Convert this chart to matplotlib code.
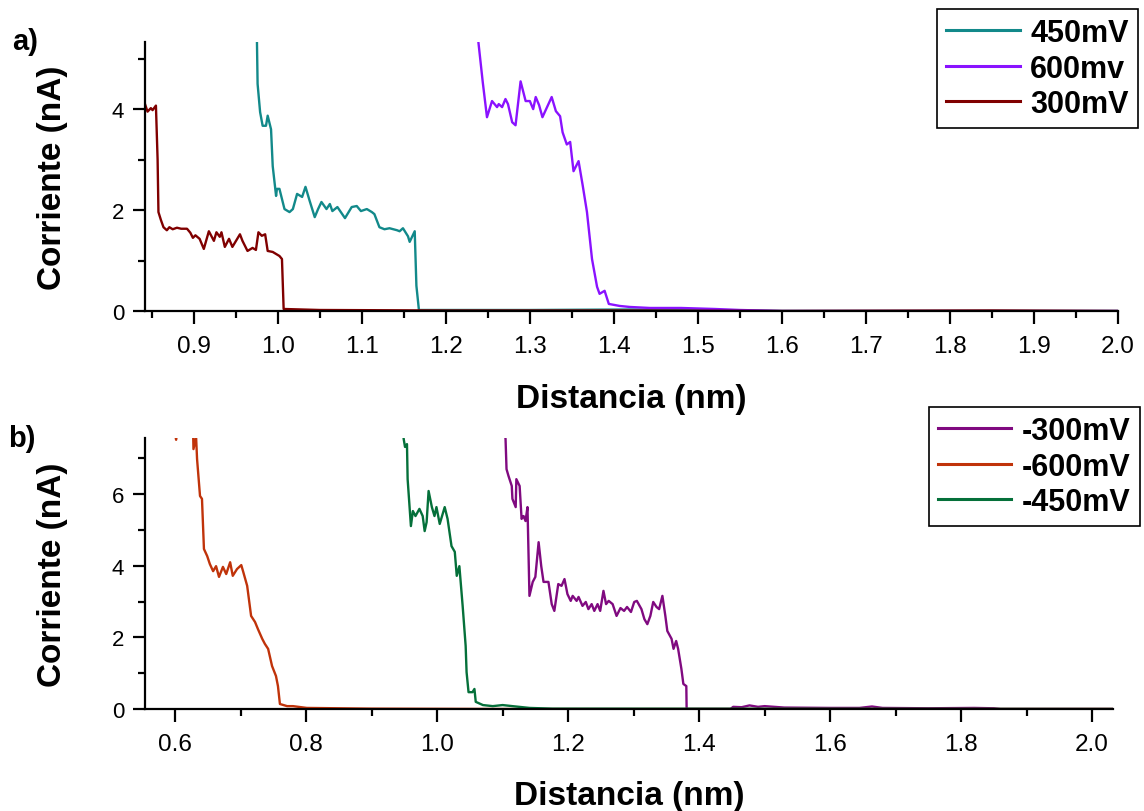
import numpy as np
import matplotlib
matplotlib.use("Agg")
import matplotlib.pyplot as plt
from matplotlib.ticker import MultipleLocator

plt.rcParams["font.family"] = ["Liberation Sans", "DejaVu Sans"]

# ---- panel a) positive bias ----
x_450 = [0.975, 0.976, 0.979, 0.982, 0.986, 0.988, 0.992, 0.994, 0.998, 0.999, 1.002, 1.005,
         1.008, 1.014, 1.018, 1.023, 1.029, 1.033, 1.038, 1.044, 1.048, 1.052, 1.058, 1.062,
         1.065, 1.071, 1.080, 1.088, 1.094, 1.099, 1.106, 1.112, 1.115, 1.121, 1.127, 1.133,
         1.142, 1.145, 1.149, 1.155, 1.157, 1.163, 1.165, 1.168, 1.30, 1.42, 1.50, 1.60, 2.0]
y_450 = [5.60, 4.50, 3.94, 3.67, 3.67, 3.87, 3.60, 2.87, 2.28, 2.42, 2.42, 2.22,
         2.02, 1.96, 2.02, 2.32, 2.26, 2.46, 2.18, 1.86, 2.02, 2.16, 2.02, 2.12,
         1.98, 2.06, 1.84, 2.06, 2.08, 1.98, 2.02, 1.96, 1.92, 1.66, 1.62, 1.64,
         1.60, 1.58, 1.64, 1.48, 1.37, 1.58, 0.50, 0.02, 0.02, 0.03, 0.02, 0.0, 0.0]

x_600 = [1.237, 1.244, 1.249, 1.255, 1.261, 1.263, 1.267, 1.271, 1.274, 1.279, 1.283, 1.289,
         1.295, 1.300, 1.304, 1.307, 1.311, 1.315, 1.326, 1.331, 1.336, 1.339, 1.344, 1.348,
         1.352, 1.358, 1.363, 1.368, 1.374, 1.380, 1.383, 1.389, 1.394, 1.407, 1.419, 1.443,
         1.48, 1.52, 1.55, 1.60, 2.0]
y_600 = [5.60, 4.53, 3.84, 4.16, 4.04, 4.10, 4.04, 4.20, 4.10, 3.74, 3.68, 4.55,
         4.16, 4.16, 4.00, 4.24, 4.08, 3.84, 4.24, 3.96, 3.86, 3.54, 3.30, 3.35,
         2.77, 2.97, 2.48, 1.96, 1.03, 0.48, 0.34, 0.40, 0.14, 0.10, 0.08, 0.06,
         0.06, 0.04, 0.02, 0.0, 0.0]

x_300 = [0.842, 0.845, 0.849, 0.851, 0.855, 0.857, 0.858, 0.861, 0.864, 0.868, 0.871, 0.875,
         0.880, 0.885, 0.892, 0.896, 0.899, 0.902, 0.907, 0.912, 0.918, 0.924, 0.927, 0.931,
         0.933, 0.937, 0.942, 0.946, 0.955, 0.958, 0.964, 0.970, 0.974, 0.977, 0.981, 0.985,
         0.988, 0.994, 1.002, 1.005, 1.007, 1.05, 1.20, 1.40, 1.60, 1.85, 2.0]
y_300 = [4.10, 3.95, 4.02, 3.98, 4.07, 3.00, 1.96, 1.80, 1.66, 1.60, 1.66, 1.62,
         1.65, 1.63, 1.63, 1.55, 1.45, 1.50, 1.43, 1.23, 1.58, 1.39, 1.56, 1.47,
         1.56, 1.27, 1.43, 1.27, 1.52, 1.39, 1.19, 1.25, 1.21, 1.56, 1.49, 1.52,
         1.19, 1.17, 1.09, 1.03, 0.04, 0.02, 0.01, 0.01, 0.0, 0.01, 0.0]

# ---- panel b) negative bias ----
x_m300 = [1.103, 1.1045, 1.106, 1.109, 1.114, 1.115, 1.120, 1.121, 1.126, 1.129, 1.132, 1.135,
          1.138, 1.141, 1.146, 1.150, 1.155, 1.159, 1.1625, 1.167, 1.170, 1.175, 1.179, 1.185,
          1.190, 1.1945, 1.199, 1.204, 1.207, 1.213, 1.216, 1.222, 1.227, 1.231, 1.236, 1.240,
          1.245, 1.249, 1.254, 1.258, 1.262, 1.268, 1.274, 1.280, 1.2855, 1.290, 1.296, 1.301,
          1.305, 1.312, 1.3165, 1.321, 1.3256, 1.330, 1.335, 1.339, 1.344, 1.3485, 1.3515, 1.358,
          1.361, 1.365, 1.368, 1.373, 1.376, 1.3805, 1.381, 1.448, 1.452, 1.465, 1.477, 1.49,
          1.50, 1.53, 1.60, 1.645, 1.664, 1.68, 1.75, 1.82, 1.85, 1.86, 2.032]
y_m300 = [7.80, 7.54, 6.70, 6.51, 6.23, 5.87, 5.64, 6.42, 6.23, 5.31, 5.39, 5.25,
          5.64, 3.16, 3.55, 3.69, 4.66, 3.99, 3.55, 3.55, 3.55, 2.93, 2.74, 3.49,
          3.44, 3.63, 3.21, 3.02, 3.16, 3.02, 3.13, 2.88, 2.99, 2.79, 2.93, 2.74,
          2.93, 2.74, 3.30, 2.93, 3.02, 2.93, 2.60, 2.82, 2.74, 2.85, 2.71, 2.99,
          3.02, 2.79, 2.51, 2.37, 2.60, 2.99, 2.85, 2.79, 3.16, 2.60, 2.18, 1.96,
          1.68, 1.90, 1.68, 1.12, 0.70, 0.64, 0.0, 0.0, 0.06, 0.05, 0.10, 0.06,
          0.08, 0.04, 0.03, 0.03, 0.07, 0.03, 0.02, 0.03, 0.02, 0.0, 0.0]

x_m600 = [0.598, 0.6015, 0.605, 0.6274, 0.628, 0.632, 0.6335, 0.638, 0.641, 0.644, 0.649, 0.653,
          0.658, 0.6625, 0.667, 0.673, 0.678, 0.684, 0.688, 0.6945, 0.701, 0.704, 0.710, 0.716,
          0.722, 0.7265, 0.733, 0.737, 0.742, 0.748, 0.754, 0.757, 0.760, 0.771, 0.780, 0.801,
          0.90, 1.10, 2.032]
y_m600 = [7.90, 7.52, 7.90, 7.80, 7.26, 7.60, 6.98, 5.95, 5.87, 4.47, 4.27, 4.05,
          3.85, 3.99, 3.69, 3.97, 3.77, 4.10, 3.72, 3.91, 4.02, 3.83, 3.44, 2.60,
          2.43, 2.23, 1.96, 1.82, 1.68, 1.20, 0.92, 0.64, 0.14, 0.08, 0.08, 0.03,
          0.01, 0.0, 0.0]

x_m450 = [0.9476, 0.949, 0.951, 0.954, 0.955, 0.960, 0.963, 0.967, 0.973, 0.978, 0.981, 0.984,
          0.987, 0.992, 0.996, 0.999, 1.004, 1.0116, 1.016, 1.022, 1.027, 1.030, 1.034, 1.039,
          1.0436, 1.045, 1.048, 1.054, 1.057, 1.059, 1.070, 1.085, 1.100, 1.115, 1.141, 1.176,
          2.032]
y_m450 = [7.80, 7.54, 7.32, 7.40, 6.42, 5.11, 5.53, 5.39, 5.59, 5.39, 4.97, 5.22,
          6.09, 5.64, 5.39, 5.64, 5.17, 5.64, 5.31, 4.55, 4.39, 3.72, 3.99, 2.88,
          1.76, 1.03, 0.47, 0.47, 0.56, 0.20, 0.11, 0.08, 0.11, 0.08, 0.03, 0.01,
          0.0]

W, H = 1144, 812
fig = plt.figure(figsize=(W / 100, H / 100), dpi=100)

ax1 = fig.add_axes([145 / W, 1 - 312 / H, (1118 - 145) / W, (312 - 43) / H])
ax2 = fig.add_axes([145 / W, 1 - 710 / H, (1113 - 145) / W, (710 - 439) / H])

ax1.plot(x_450, y_450, color="#12898a", lw=1.7, label="450mV")
ax1.plot(x_600, y_600, color="#8a12ff", lw=1.7, label="600mv")
ax1.plot(x_300, y_300, color="#800000", lw=1.7, label="300mV")
ax1.set_xlim(0.842, 2.0)
ax1.set_ylim(0, 5.33)
ax1.xaxis.set_major_locator(MultipleLocator(0.1))
ax1.xaxis.set_minor_locator(MultipleLocator(0.05))
ax1.yaxis.set_major_locator(MultipleLocator(2))
ax1.yaxis.set_minor_locator(MultipleLocator(1))

ax2.plot(x_m300, y_m300, color="#800a80", lw=1.7, label="-300mV")
ax2.plot(x_m600, y_m600, color="#c0330a", lw=1.7, label="-600mV")
ax2.plot(x_m450, y_m450, color="#05703a", lw=1.7, label="-450mV")
ax2.set_xlim(0.554, 2.032)
ax2.set_ylim(0, 7.57)
ax2.xaxis.set_major_locator(MultipleLocator(0.2))
ax2.xaxis.set_minor_locator(MultipleLocator(0.1))
ax2.yaxis.set_major_locator(MultipleLocator(2))
ax2.yaxis.set_minor_locator(MultipleLocator(1))

for ax in (ax1, ax2):
    ax.spines["top"].set_visible(False)
    ax.spines["right"].set_visible(False)
    ax.spines["left"].set_linewidth(1.6)
    ax.spines["bottom"].set_linewidth(1.6)
    ax.tick_params(which="major", direction="out", length=9, width=1.6)
    ax.tick_params(which="minor", direction="out", length=5, width=1.6)
    ax.tick_params(axis="x", labelsize=17.5, pad=8)
    ax.tick_params(axis="y", labelsize=16, pad=6)
    ax.xaxis.set_major_formatter(plt.FuncFormatter(lambda v, p: "%.1f" % v))
    ax.yaxis.set_major_formatter(plt.FuncFormatter(lambda v, p: "%d" % round(v)))
    ax.set_ylabel("Corriente (nA)", fontsize=24, fontweight="bold")
    ax.set_xlabel("Distancia (nm)", fontsize=24, fontweight="bold")

ax1.yaxis.set_label_coords(-(145 - 68) / 973, 0.5)
ax1.xaxis.set_label_coords(0.5, -(384 - 312) / 269)
ax2.yaxis.set_label_coords(-(145 - 68) / 968, 0.5)
ax2.xaxis.set_label_coords(0.5, -(781 - 710) / 271)

leg_kw = dict(loc="upper right", bbox_transform=fig.transFigure, fancybox=False,
              edgecolor="black", framealpha=1, prop={"weight": "bold", "size": 22},
              handlelength=2.4, handletextpad=0.35, labelspacing=0.18, borderpad=0.3,
              borderaxespad=0)
l1 = ax1.legend(bbox_to_anchor=(1138 / W, 1 - 10 / H), **leg_kw)
l2 = ax2.legend(bbox_to_anchor=(1140 / W, 1 - 408 / H), **leg_kw)
for lg in (l1, l2):
    lg.get_frame().set_linewidth(1.2)
    for ln in lg.get_lines():
        ln.set_linewidth(2.2)

fig.text(12 / W, 1 - 50 / H, "a)", fontsize=21, fontweight="bold", va="baseline")
fig.text(8 / W, 1 - 447 / H, "b)", fontsize=21, fontweight="bold", va="baseline")

fig.savefig("out.png", dpi=100)
